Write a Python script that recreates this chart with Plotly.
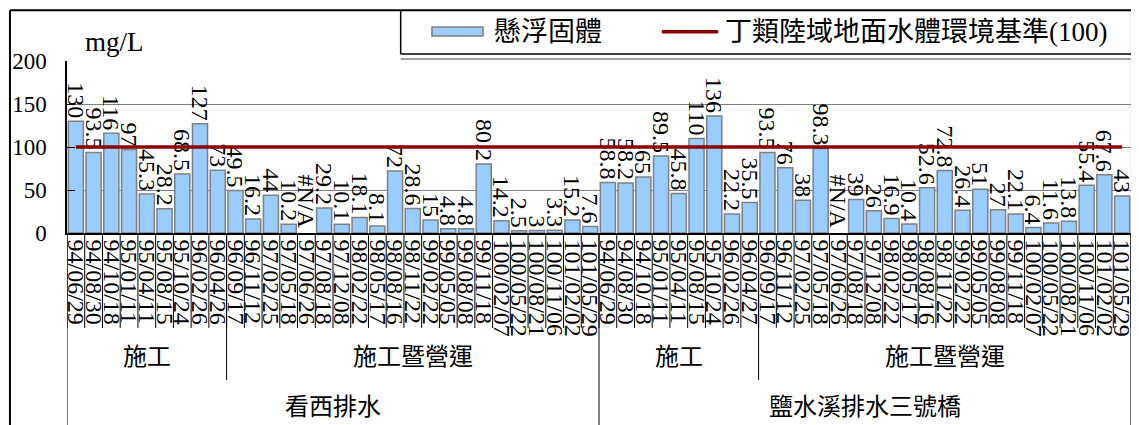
import plotly.graph_objects as go

stations = ["看西排水", "鹽水溪排水三號橋"]
phases = ["施工", "施工暨營運"]

dates_1 = ["94/06/29", "94/08/30", "94/10/18", "95/01/11", "95/04/11", "95/08/15",
           "95/10/24", "96/02/26", "96/04/26", "96/09/17", "96/11/12", "97/02/25",
           "97/05/18", "97/06/26", "97/08/18", "97/12/08", "98/02/22", "98/05/17",
           "98/08/16", "98/11/22", "99/02/22", "99/05/05", "99/08/08", "99/11/18",
           "100/02/07", "100/05/22", "100/08/21", "100/11/06", "101/02/02", "101/05/29"]
phase_n_1 = [9, 21]
ss_1 = [130, 93.5, 116, 97, 45.3, 28.2, 68.5, 127, 73, 49.5, 16.2, 44, 10.2, None,
        29.2, 10.1, 18.1, 8.1, 72, 28.6, 15, 4.8, 4.8, 80.2, 14.2, 2.5, 3, 3.3, 15.2, 7.6]

dates_2 = ["94/06/29", "94/08/30", "94/10/18", "95/01/11", "95/04/11", "95/08/15",
           "95/10/24", "96/02/26", "96/04/27", "96/09/17", "96/11/12", "97/02/25",
           "97/05/18", "97/06/26", "97/08/18", "97/12/08", "98/02/22", "98/05/17",
           "98/08/16", "98/11/22", "99/02/22", "99/05/05", "99/08/08", "99/11/18",
           "100/02/07", "100/05/22", "100/08/21", "100/11/06", "101/02/02", "101/05/29"]
phase_n_2 = [9, 21]
ss_2 = [58.8, 58.2, 65, 89.5, 45.8, 110, 136, 22.2, 35.5, 93.5, 76, 38, 98.3, None,
        39, 26, 16.9, 10.4, 52.6, 72.8, 26.4, 51, 27, 22.1, 6.4, 11.6, 13.8, 55.4, 67.6, 43]

standard = 100
yticks = [0, 50, 100, 150, 200]

FONT = "Liberation Serif, Noto Sans CJK TC, serif"
BLACK = "black"

dates = dates_1 + dates_2
values = ss_1 + ss_2
xs = list(range(len(dates)))
labels = ["" if v is None else f"{v:g}" for v in values]
n = len(dates)

fig = go.Figure()
fig.add_trace(go.Bar(x=xs, y=values, text=labels, textposition="outside",
                     textangle=90, cliponaxis=False, constraintext="none",
                     textfont=dict(size=24, color=BLACK, family=FONT),
                     marker=dict(color="#99ccff", line=dict(color="#808080", width=1.5)),
                     showlegend=False))
fig.add_trace(go.Scatter(x=xs, y=[standard] * n, mode="lines",
                         line=dict(color="#8b0000", width=3.5), showlegend=False))

# #N/A labels
for i, v in enumerate(values):
    if v is None:
        fig.add_annotation(x=i, y=0, text="#N/A", textangle=90, showarrow=False,
                           yanchor="bottom", yshift=2,
                           font=dict(size=24, color=BLACK, family=FONT))


def vline(x, ybot):
    fig.add_shape(type="line", xref="x", yref="paper", x0=x, x1=x, y0=0, y1=ybot,
                  line=dict(color=BLACK, width=1))


def pline(x0, y0, x1, y1, color=BLACK, width=1.5):
    fig.add_shape(type="line", xref="paper", yref="paper", x0=x0, x1=x1, y0=y0, y1=y1,
                  line=dict(color=color, width=width))


def label(x, y, text, size, xref="paper", xanchor="center"):
    fig.add_annotation(x=x, y=y, xref=xref, yref="paper", text=text, showarrow=False,
                       xanchor=xanchor, yanchor="middle",
                       font=dict(size=size, color=BLACK, family=FONT))


# category table under the axis
for i in range(n + 1):
    vline(i - 0.5, -0.552)

start = 0
for st, pn in zip(stations, [phase_n_1, phase_n_2]):
    vline(start - 0.5, -1.2)
    p0 = start
    for k, (ph, cnt) in enumerate(zip(phases, pn)):
        if k > 0:
            vline(p0 - 0.5, -0.855)
        label(p0 + (cnt - 1) / 2, -0.72, ph, 24, xref="x")
        p0 += cnt
    label(start + (sum(pn) - 1) / 2, -1.01, st, 24, xref="x")
    start += sum(pn)
vline(n - 0.5, -1.2)

# outer frame
pline(-0.0536, -1.2, -0.0536, 1.295, width=2)
pline(-0.0536, 1.295, 1.0009, 1.295, width=2)
pline(1.0009, -1.2, 1.0009, 1.295, width=2)

# legend drawn by hand
pline(0.3136, 1.0405, 0.3136, 1.295)
pline(0.3136, 1.0405, 1.0009, 1.0405)
pline(0.3136, 1.012, 1.01, 1.012, color="#a0a0a0", width=2)
fig.add_shape(type="rect", xref="paper", yref="paper", x0=0.343, x1=0.391,
              y0=1.145, y1=1.197, fillcolor="#99ccff", line=dict(color="#808080", width=1.5))
label(0.399, 1.17, "懸浮固體", 27, xanchor="left")
fig.add_shape(type="line", xref="paper", yref="paper", x0=0.559, x1=0.612,
              y0=1.17, y1=1.17, line=dict(color="#8b0000", width=3.5))
label(0.6165, 1.17, "丁類陸域地面水體環境基準(100)", 27, xanchor="left")

label(0.0155, 1.11, "mg/L", 27, xanchor="left")

# page body has an 8px margin, so size the figure to fit the window
fig.update_layout(
    width=1131, height=417,
    margin=dict(l=59, r=8, t=53, b=192, autoexpand=False),
    paper_bgcolor="white", plot_bgcolor="white",
    bargap=0.15,
    font=dict(family=FONT, color=BLACK),
    xaxis=dict(range=[-0.5, n - 0.5], tickvals=xs, ticktext=dates, tickangle=90,
               tickfont=dict(size=24, family=FONT), showgrid=False, ticks="",
               showline=True, linecolor=BLACK, linewidth=1.5, zeroline=False,
               automargin=False),
    yaxis=dict(range=[0, 200], tickvals=yticks, tickfont=dict(size=23, family=FONT),
               showgrid=True, gridcolor="#808080", gridwidth=1, showline=True,
               linecolor=BLACK, linewidth=1.5, ticks="inside", ticklen=8,
               tickcolor=BLACK, ticklabelstandoff=14, zeroline=False,
               automargin=False),
)

fig.write_html("out.html")
